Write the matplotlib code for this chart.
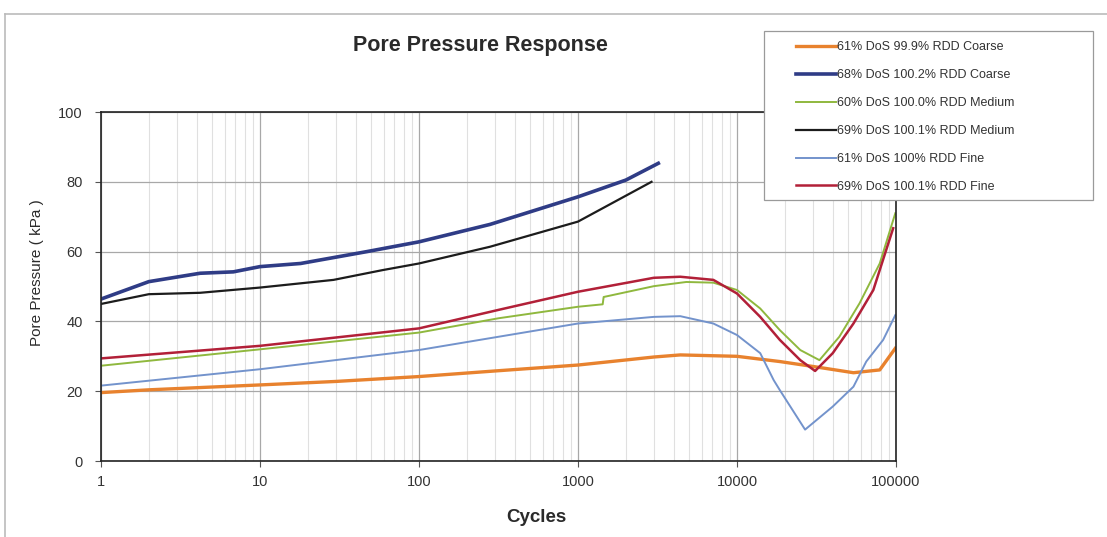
import numpy as np
import matplotlib.pyplot as plt
from matplotlib.lines import Line2D
from matplotlib.patches import Rectangle
from matplotlib.ticker import LogLocator, NullFormatter, FixedLocator

plt.rcParams['font.family'] = ['Liberation Sans', 'DejaVu Sans']

# series (cycles, kPa)
coarse61_x = [1, 2, 5, 10, 30, 100, 300, 1000, 3000, 4400, 10000, 18600, 31000, 54000, 79000, 99000]
coarse61_y = [19.6, 20.4, 21.2, 21.8, 22.8, 24.2, 25.8, 27.5, 29.8, 30.4, 30.0, 28.5, 27.0, 25.3, 26.1, 32.3]

coarse68_x = [1, 2, 4.2, 6.8, 10, 18, 47, 100, 280, 1000, 2000, 3200]
coarse68_y = [46.4, 51.4, 53.8, 54.2, 55.7, 56.6, 60.0, 62.8, 67.8, 75.7, 80.5, 85.3]

medium60_x = [1, 10, 100, 316, 1000, 1430, 1450, 3000, 4800, 7100, 10000, 14000, 18600, 25000,
              33000, 44000, 59000, 79000, 99000]
medium60_y = [27.3, 32.0, 36.8, 40.9, 44.2, 44.9, 47.0, 50.1, 51.3, 51.1, 49.0, 43.7, 37.5, 31.8,
              28.9, 35.6, 45.2, 56.6, 71.0]

medium69_x = [1, 2, 4.2, 10, 29, 59, 100, 280, 1000, 2900]
medium69_y = [45.0, 47.8, 48.2, 49.7, 51.9, 54.7, 56.6, 61.4, 68.6, 80.0]

fine61_x = [1, 10, 100, 316, 1000, 3000, 4400, 7100, 10000, 14000, 17000, 18600, 26800, 40000,
            54000, 65000, 83000, 99000]
fine61_y = [21.6, 26.3, 31.8, 35.6, 39.4, 41.3, 41.5, 39.4, 36.1, 30.9, 23.2, 20.3, 9.0, 15.6,
            21.3, 28.5, 34.7, 41.8]

fine69_x = [1, 10, 100, 316, 1000, 3000, 4400, 7100, 10000, 14000, 18600, 25000, 31000, 40000,
            54000, 72000, 96000]
fine69_y = [29.4, 33.0, 38.0, 43.3, 48.5, 52.5, 52.8, 51.9, 48.0, 41.3, 34.7, 28.9, 25.8, 30.9,
            39.4, 49.0, 66.7]

labels = ["61% DoS 99.9% RDD Coarse", "68% DoS 100.2% RDD Coarse", "60% DoS 100.0% RDD Medium",
          "69% DoS 100.1% RDD Medium", "61% DoS 100% RDD Fine", "69% DoS 100.1% RDD Fine"]
colors = ["#E8822E", "#2F3C86", "#8FB83E", "#1C1C1C", "#7393CC", "#B22038"]
widths = [2.4, 2.6, 1.4, 1.6, 1.4, 1.8]

fig = plt.figure(figsize=(11.07, 5.37), dpi=100)
ax = fig.add_axes([0.0912, 0.1415, 0.7182, 0.6499])

xs = [coarse61_x, coarse68_x, medium60_x, medium69_x, fine61_x, fine69_x]
ys = [coarse61_y, coarse68_y, medium60_y, medium69_y, fine61_y, fine69_y]
handles = []
for x, y, lab, c, w in zip(xs, ys, labels, colors, widths):
    h, = ax.plot(x, y, color=c, lw=w, label=lab)
    handles.append(h)

ax.set_xscale("log")
ax.set_xlim(1, 100000)
ax.set_ylim(0, 100)
ax.set_yticks([0, 20, 40, 60, 80, 100])
ax.xaxis.set_major_locator(FixedLocator([1, 10, 100, 1000, 10000, 100000]))
ax.set_xticklabels(["1", "10", "100", "1000", "10000", "100000"])
ax.xaxis.set_minor_locator(LogLocator(base=10, subs=np.arange(2, 10)))
ax.xaxis.set_minor_formatter(NullFormatter())
ax.tick_params(axis="x", which="minor", length=0)
ax.tick_params(which="major", length=4, color="#555555", labelsize=10.5, labelcolor="#333333")
ax.tick_params(axis="y", pad=9)
ax.tick_params(axis="x", pad=6)

ax.grid(True, which="major", color="#a8a8a8", lw=0.9)
ax.grid(True, which="minor", axis="x", color="#e0e0e0", lw=0.8)
ax.set_axisbelow(True)
for s in ax.spines.values():
    s.set_color("#222222")
    s.set_linewidth(1.2)

fig.text(480 / 1107, 1 - 46 / 537, "Pore Pressure Response", ha="center", va="center",
         fontsize=15.5, fontweight="bold", color="#2a2a2a")
fig.text(37.5 / 1107, 1 - 273 / 537, "Pore Pressure ( kPa )", rotation=90, ha="center", va="center",
         fontsize=11, color="#2a2a2a")
fig.text(536 / 1107, 1 - 518 / 537, "Cycles", ha="center", va="center",
         fontsize=13.5, fontweight="bold", color="#2a2a2a")

# legend box drawn in figure pixels, legend entries on top of it
fig.add_artist(Rectangle((764 / 1107, 1 - 200 / 537), 329 / 1107, 169 / 537,
                         transform=fig.transFigure, facecolor="white",
                         edgecolor="#9a9a9a", lw=0.9, zorder=5))
leg = fig.legend(handles, labels, loc="upper left", bbox_to_anchor=(796 / 1107, 1 - 41.5 / 537),
                 bbox_transform=fig.transFigure, borderaxespad=0, borderpad=0,
                 fontsize=9, handlelength=3.2, handletextpad=0.1, labelspacing=1.27,
                 frameon=False)
leg.set_zorder(6)
for t in leg.get_texts():
    t.set_color("#333333")

# outer border of the sheet (left and top)
fig.add_artist(Line2D([0.0045, 0.0045], [0.0, 0.974], color="#bbbbbb", lw=1.2))
fig.add_artist(Line2D([0.0045, 1.0], [0.974, 0.974], color="#bbbbbb", lw=1.2))

fig.savefig("out.png", dpi=100)
